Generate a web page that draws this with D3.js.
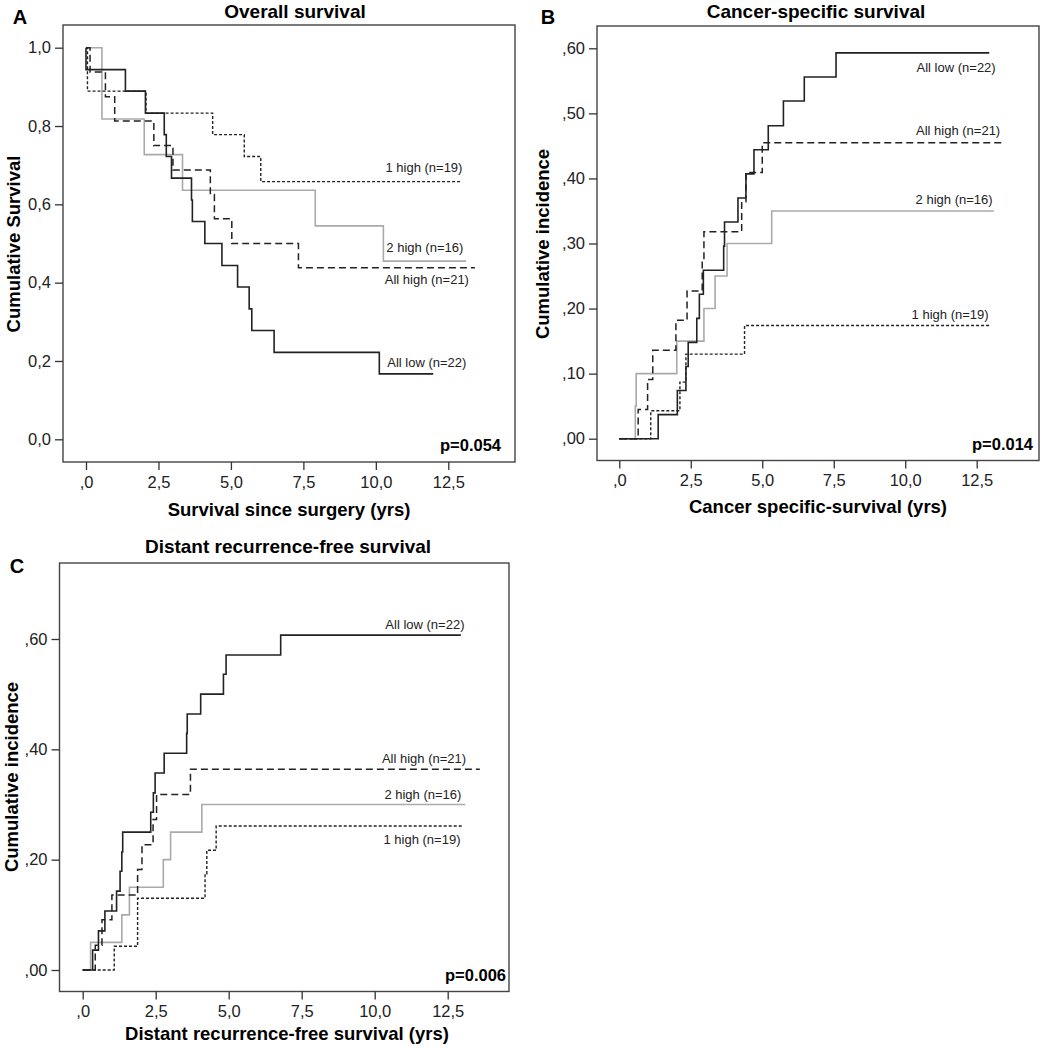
<!DOCTYPE html>
<html>
<head>
<meta charset="utf-8">
<script src="https://cdn.jsdelivr.net/npm/d3@7"></script>
<style>
  body { margin: 0; background: #fff; }
  svg { display: block; font-family: "Liberation Sans", Arial, sans-serif; }
  .axis text { font-size: 16.5px; fill: #222; }
  .axis line { stroke: #333; stroke-width: 1.3; }
  .axis path { display: none; }
</style>
</head>
<body>
<svg id="chart" width="1046" height="1050"></svg>
<script>
// ---- data (time in years, value) ----
const seriesNames = ["All low (n=22)", "All high (n=21)", "2 high (n=16)", "1 high (n=19)"]

// A: overall survival
const osAllLow = [[0,1],[0,0.944],[1.36,0.889],[2.05,0.833],[2.70,0.778],[2.77,0.722],[2.95,0.667],[3.64,0.611],[3.67,0.556],[4.10,0.5],[4.69,0.444],[5.23,0.389],[5.63,0.333],[5.72,0.278],[6.49,0.222],[10.12,0.167],[11.98,0.167]]
const osAllHigh = [[0,1],[0.14,0.938],[0.67,0.875],[0.99,0.813],[2.34,0.75],[3.0,0.688],[4.29,0.625],[4.43,0.563],[5.03,0.5],[7.33,0.438],[13.42,0.438]]
const osTwoHigh = [[0,1],[0.55,0.818],[2.01,0.727],[3.33,0.636],[7.91,0.545],[10.26,0.455],[13.11,0.455]]
const osOneHigh = [[0,1],[0.05,0.889],[2.07,0.833],[4.37,0.778],[5.46,0.722],[6.03,0.658],[12.96,0.658]]

// B: cancer-specific cumulative incidence
const csAllLow = [[0,0],[1.36,0.037],[2.03,0.074],[2.33,0.111],[2.41,0.148],[2.71,0.185],[2.80,0.222],[2.94,0.259],[3.65,0.296],[3.68,0.333],[4.15,0.370],[4.43,0.407],[4.71,0.444],[5.21,0.481],[5.74,0.519],[6.47,0.556],[7.58,0.593],[12.94,0.593]]
const csAllHigh = [[0,0],[0.66,0.045],[0.99,0.091],[1.17,0.136],[1.98,0.182],[2.37,0.227],[2.90,0.273],[2.96,0.318],[4.28,0.364],[4.43,0.409],[5.0,0.455],[13.49,0.455]]
const csTwoHigh = [[0,0],[0.56,0.05],[0.59,0.10],[2.01,0.15],[2.96,0.20],[3.35,0.25],[3.77,0.30],[5.33,0.35],[13.1,0.35]]
const csOneHigh = [[0,0],[1.10,0.043],[2.12,0.087],[2.33,0.130],[4.38,0.174],[13.0,0.174]]

// C: distant recurrence cumulative incidence
const drAllLow = [[0,0],[0.34,0.036],[0.54,0.071],[0.76,0.107],[1.16,0.143],[1.28,0.179],[1.34,0.214],[1.37,0.25],[2.33,0.286],[2.42,0.321],[2.48,0.357],[2.79,0.393],[3.56,0.429],[3.58,0.464],[4.04,0.5],[4.82,0.536],[4.91,0.571],[6.78,0.607],[12.95,0.607]]
const drAllHigh = [[0,0],[0.43,0.045],[0.66,0.091],[1.0,0.136],[1.88,0.182],[2.03,0.227],[2.41,0.273],[2.53,0.318],[3.69,0.364],[13.6,0.364]]
const drTwoHigh = [[0,0],[0.27,0.05],[1.34,0.10],[1.60,0.15],[2.76,0.20],[3.01,0.25],[4.08,0.30],[13.1,0.30]]
const drOneHigh = [[0,0],[1.08,0.043],[1.88,0.130],[4.19,0.174],[4.25,0.217],[4.57,0.261],[12.98,0.261]]

// ticks
const xTicks = [0, 2.5, 5, 7.5, 10, 12.5]
const xTickLabels = [",0", "2,5", "5,0", "7,5", "10,0", "12,5"]
const osYTicks = [0, 0.2, 0.4, 0.6, 0.8, 1.0]
const osYTickLabels = ["0,0", "0,2", "0,4", "0,6", "0,8", "1,0"]
const csYTicks = [0, 0.1, 0.2, 0.3, 0.4, 0.5, 0.6]
const csYTickLabels = [",00", ",10", ",20", ",30", ",40", ",50", ",60"]
const drYTicks = [0, 0.2, 0.4, 0.6]
const drYTickLabels = [",00", ",20", ",40", ",60"]

const pValues = ["p=0.054", "p=0.014", "p=0.006"]

// line styles per series: all low, all high, 2 high, 1 high
const styles = [
  { stroke: "#222", dash: null, width: 1.6 },
  { stroke: "#222", dash: "7,4", width: 1.5 },
  { stroke: "#aaa", dash: null, width: 1.6 },
  { stroke: "#222", dash: "3,2", width: 1.4 },
]

const svg = d3.select('#chart')

function drawPanel(p) {
  const g = svg.append('g')

  const x = d3.scaleLinear().domain([0, 12.5]).range(p.xRange)
  const y = d3.scaleLinear().domain(p.yDomain).range(p.yRange)

  // frame
  g.append('rect')
    .attr('x', p.frame.l).attr('y', p.frame.t)
    .attr('width', p.frame.r - p.frame.l).attr('height', p.frame.b - p.frame.t)
    .attr('fill', 'none').attr('stroke', '#444').attr('stroke-width', 1.4)

  const yAxis = d3.axisLeft(y)
    .tickValues(p.yTicks)
    .tickFormat((d, i) => p.yTickLabels[i])
    .tickSize(8).tickPadding(4)
  g.append('g')
    .attr('class', 'axis')
    .attr('transform', `translate(${p.frame.l}, 0)`)
    .call(yAxis)

  const xAxis = d3.axisBottom(x)
    .tickValues(xTicks)
    .tickFormat((d, i) => xTickLabels[i])
    .tickSize(8).tickPadding(6)
  g.append('g')
    .attr('class', 'axis')
    .attr('transform', `translate(0, ${p.frame.b})`)
    .call(xAxis)

  const line = d3.line()
    .x(d => x(d[0]))
    .y(d => y(d[1]))
    .curve(d3.curveStepAfter)

  // draw gray first so black lies on top
  const order = [2, 3, 1, 0]
  order.forEach(i => {
    const s = styles[i]
    g.append('path')
      .datum(p.series[i])
      .attr('d', line)
      .attr('fill', 'none')
      .attr('stroke', s.stroke)
      .attr('stroke-width', s.width)
      .attr('stroke-dasharray', s.dash)
  })

  // curve labels
  p.labelPos.forEach((pos, i) => {
    g.append('text')
      .attr('x', x(pos[0]))
      .attr('y', y(pos[1]))
      .attr('dy', '0.35em')
      .attr('text-anchor', 'middle')
      .attr('font-size', 13)
      .attr('fill', '#222')
      .text(seriesNames[i])
  })

  g.append('text')
    .attr('x', p.frame.r - p.pOffset)
    .attr('y', p.frame.b - 11)
    .attr('text-anchor', 'end')
    .attr('font-size', 16.5)
    .attr('font-weight', 'bold')
    .text(p.pValue)

  g.append('text')
    .attr('x', p.titlePos[0]).attr('y', p.titlePos[1])
    .attr('text-anchor', 'middle')
    .attr('font-size', 19).attr('font-weight', 'bold')
    .text(p.title)

  g.append('text')
    .attr('x', p.letterPos[0]).attr('y', p.letterPos[1])
    .attr('text-anchor', 'middle')
    .attr('font-size', 20).attr('font-weight', 'bold')
    .text(p.letter)

  g.append('text')
    .attr('x', p.xLabelPos[0]).attr('y', p.xLabelPos[1])
    .attr('text-anchor', 'middle')
    .attr('font-size', 18.5).attr('font-weight', 'bold')
    .text(p.xLabel)

  g.append('text')
    .attr('transform', `translate(${p.yLabelPos[0]}, ${p.yLabelPos[1]}) rotate(-90)`)
    .attr('text-anchor', 'middle')
    .attr('dy', '0.35em')
    .attr('font-size', 18.5).attr('font-weight', 'bold')
    .text(p.yLabel)
}

drawPanel({
  letter: 'A', letterPos: [20, 24],
  title: 'Overall survival', titlePos: [295, 18],
  xLabel: 'Survival since surgery (yrs)', xLabelPos: [289, 516],
  yLabel: 'Cumulative Survival', yLabelPos: [14, 244],
  frame: { l: 63, t: 25, r: 515, b: 462 },
  xRange: [86, 448.3],
  yDomain: [0, 1], yRange: [439.3, 47.7],
  yTicks: osYTicks, yTickLabels: osYTickLabels,
  series: [osAllLow, osAllHigh, osTwoHigh, osOneHigh],
  labelPos: [[11.76, 0.197], [11.76, 0.407], [11.69, 0.489], [11.66, 0.695]],
  pValue: pValues[0], pOffset: 14,
})

drawPanel({
  letter: 'B', letterPos: [548, 24],
  title: 'Cancer-specific survival', titlePos: [816, 18],
  xLabel: 'Cancer specific-survival (yrs)', xLabelPos: [818, 513],
  yLabel: 'Cumulative incidence', yLabelPos: [543, 244],
  frame: { l: 597, t: 26, r: 1039, b: 460.5 },
  xRange: [619.3, 976.7],
  yDomain: [0, 0.6], yRange: [438.7, 48.3],
  yTicks: csYTicks, yTickLabels: csYTickLabels,
  series: [csAllLow, csAllHigh, csTwoHigh, csOneHigh],
  labelPos: [[11.78, 0.570], [11.85, 0.473], [11.71, 0.368], [11.57, 0.191]],
  pValue: pValues[1], pOffset: 6,
})

drawPanel({
  letter: 'C', letterPos: [17, 573],
  title: 'Distant recurrence-free survival', titlePos: [288, 553],
  xLabel: 'Distant recurrence-free survival (yrs)', xLabelPos: [287, 1040],
  yLabel: 'Cumulative incidence', yLabelPos: [12, 777],
  frame: { l: 59.5, t: 563, r: 509, b: 991.5 },
  xRange: [82.7, 447.7],
  yDomain: [0, 0.6], yRange: [970, 639],
  yTicks: drYTicks, yTickLabels: drYTickLabels,
  series: [drAllLow, drAllHigh, drTwoHigh, drOneHigh],
  labelPos: [[11.72, 0.627], [11.69, 0.384], [11.65, 0.319], [11.62, 0.236]],
  pValue: pValues[2], pOffset: 3,
})
</script>
</body>
</html>
